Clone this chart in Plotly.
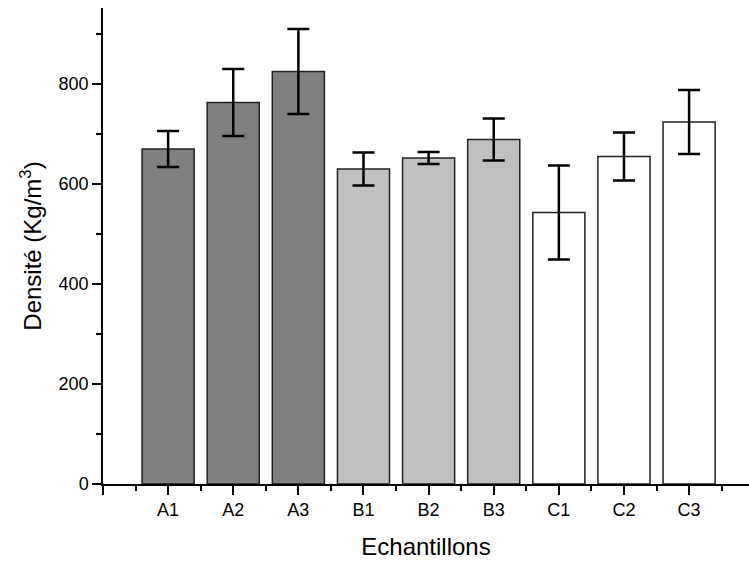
import plotly.graph_objects as go

# Density per sample, with standard deviation
categories = ["A1", "A2", "A3", "B1", "B2", "B3", "C1", "C2", "C3"]
density = [670, 763, 825, 630, 652, 689, 543, 655, 724]
std_dev = [36, 67, 85, 33, 12, 42, 94, 48, 64]
fill_colors = ["#808080"] * 3 + ["#c0c0c0"] * 3 + ["#ffffff"] * 3

positions = list(range(1, len(categories) + 1))

fig = go.Figure(
    go.Bar(
        x=positions,
        y=density,
        width=0.8,
        marker=dict(color=fill_colors, line=dict(color="#222222", width=1.5)),
        error_y=dict(type="data", array=std_dev, visible=True,
                     color="black", thickness=2.5, width=11),
    )
)

font_family = "Liberation Sans, Arial, sans-serif"

fig.update_layout(
    width=749, height=562,
    margin=dict(l=103, r=0, t=8, b=78),
    paper_bgcolor="white", plot_bgcolor="white",
    showlegend=False,
    font=dict(family=font_family, color="black", size=18),
    xaxis=dict(
        range=[0, 9.92],
        tickmode="array",
        tickvals=[0] + positions,
        ticktext=[""] + categories,
        ticks="outside", ticklen=9, tickwidth=1.5, tickcolor="black",
        showline=True, linecolor="black", linewidth=1.5,
        showgrid=False, zeroline=False,
        minor=dict(tickmode="linear", tick0=0.5, dtick=1, ticks="outside",
                   ticklen=5, tickwidth=1.5, tickcolor="black", showgrid=False),
        tickfont=dict(size=18),
        title=dict(text="Echantillons", font=dict(size=24), standoff=19),
    ),
    yaxis=dict(
        range=[0, 952],
        tickmode="linear", tick0=0, dtick=200,
        ticks="outside", ticklen=9, tickwidth=1.5, tickcolor="black",
        showline=True, linecolor="black", linewidth=1.5,
        showgrid=False, zeroline=False,
        minor=dict(tickmode="linear", tick0=0, dtick=100, ticks="outside",
                   ticklen=5, tickwidth=1.5, tickcolor="black", showgrid=False),
        tickfont=dict(size=18),
        title=dict(text="Densité (Kg/m<sup>3</sup>)", font=dict(size=24), standoff=10),
    ),
)

fig.write_html("out.html")
